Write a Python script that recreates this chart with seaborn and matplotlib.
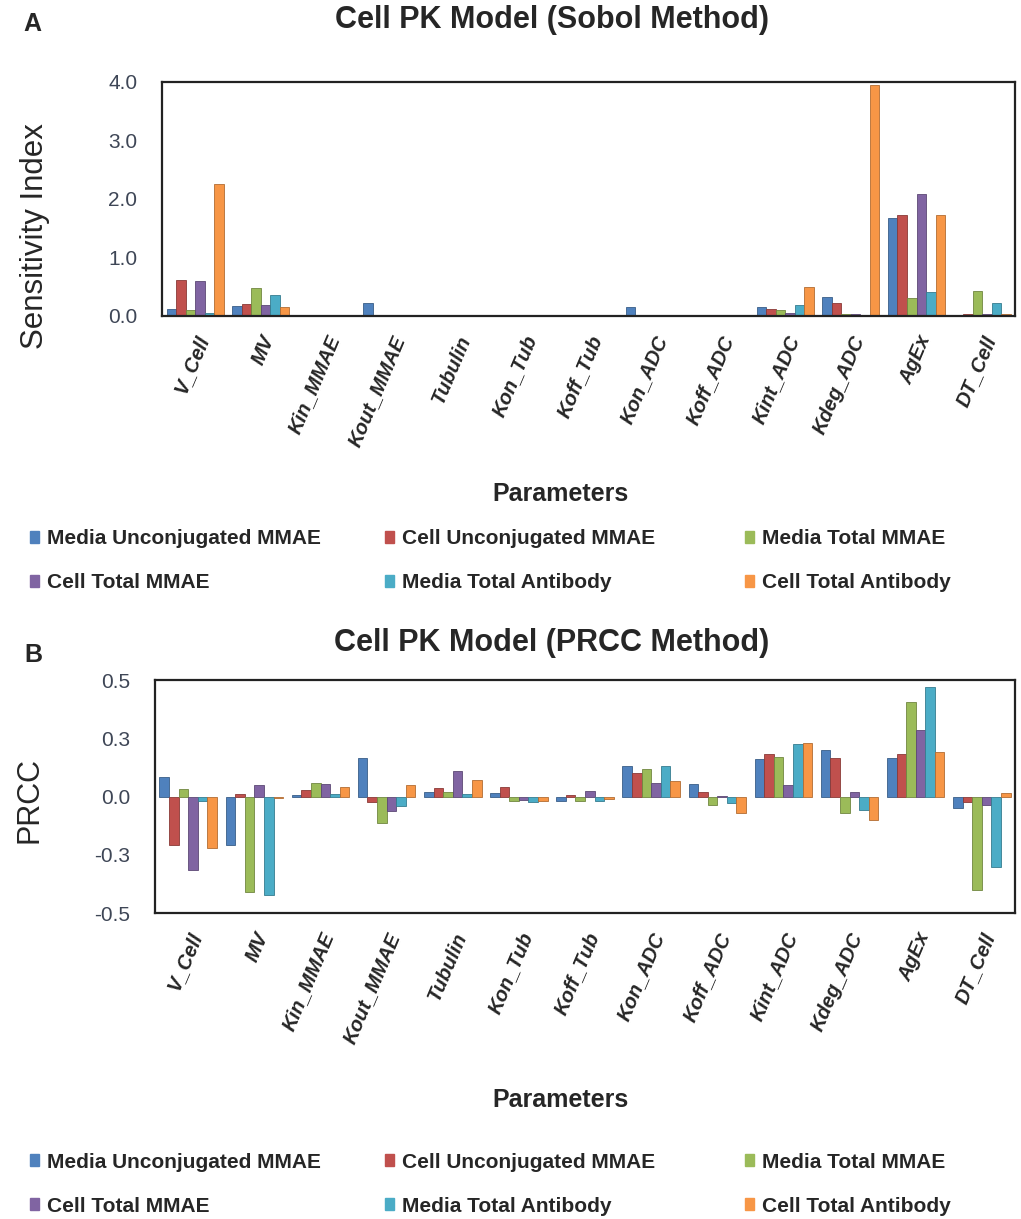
import numpy as np
import pandas as pd
import seaborn as sns
import matplotlib.pyplot as plt
from matplotlib.colors import to_rgb
from matplotlib.patches import Patch

params = ["V_Cell", "MV", "Kin_MMAE", "Kout_MMAE", "Tubulin", "Kon_Tub", "Koff_Tub",
          "Kon_ADC", "Koff_ADC", "Kint_ADC", "Kdeg_ADC", "AgEx", "DT_Cell"]
series = ["Media Unconjugated MMAE", "Cell Unconjugated MMAE", "Media Total MMAE",
          "Cell Total MMAE", "Media Total Antibody", "Cell Total Antibody"]
colors = ["#4f81bd", "#c0504d", "#9bbb59", "#8064a2", "#4bacc6", "#f79646"]

# Sobol sensitivity index, one list per series (order of params)
sobol_media_unconj = [0.12, 0.17, 0.02, 0.22, 0.01, 0.01, 0.01, 0.15, 0.01, 0.15, 0.32, 1.67, 0.02]
sobol_cell_unconj = [0.62, 0.20, 0.02, 0.02, 0.01, 0.01, 0.01, 0.02, 0.01, 0.12, 0.22, 1.72, 0.04]
sobol_media_total = [0.10, 0.48, 0.02, 0.02, 0.01, 0.01, 0.01, 0.02, 0.01, 0.10, 0.03, 0.30, 0.43]
sobol_cell_total = [0.60, 0.19, 0.02, 0.02, 0.01, 0.01, 0.01, 0.02, 0.01, 0.05, 0.03, 2.09, 0.03]
sobol_media_ab = [0.05, 0.35, 0.02, 0.02, 0.01, 0.01, 0.01, 0.02, 0.01, 0.18, 0.02, 0.41, 0.22]
sobol_cell_ab = [2.25, 0.16, 0.02, 0.02, 0.01, 0.01, 0.01, 0.02, 0.01, 0.50, 3.95, 1.72, 0.03]

# PRCC values
prcc_media_unconj = [0.084, -0.206, 0.007, 0.164, 0.02, 0.015, -0.02, 0.133, 0.055, 0.16, 0.20, 0.167, -0.05]
prcc_cell_unconj = [-0.206, 0.01, 0.03, -0.025, 0.038, 0.04, 0.007, 0.10, 0.02, 0.184, 0.165, 0.184, -0.022]
prcc_media_total = [0.033, -0.41, 0.058, -0.112, 0.02, -0.017, -0.02, 0.12, -0.036, 0.171, -0.072, 0.406, -0.40]
prcc_cell_total = [-0.315, 0.048, 0.054, -0.06, 0.11, -0.015, 0.026, 0.058, 0.004, 0.048, 0.02, 0.285, -0.036]
prcc_media_ab = [-0.017, -0.423, 0.01, -0.04, 0.01, -0.022, -0.02, 0.13, -0.026, 0.225, -0.058, 0.47, -0.304]
prcc_cell_ab = [-0.22, -0.005, 0.04, 0.05, 0.07, -0.017, -0.012, 0.065, -0.07, 0.232, -0.10, 0.19, 0.017]

sobol_ticks = [0, 1, 2, 3, 4]
sobol_ticklabels = ["0.0", "1.0", "2.0", "3.0", "4.0"]
prcc_ticks = [-0.5, -0.25, 0, 0.25, 0.5]
prcc_ticklabels = ["-0.5", "-0.3", "0.0", "0.3", "0.5"]


def long_df(cols):
    rows = []
    for s, vals in zip(series, cols):
        for p, v in zip(params, vals):
            rows.append({"Parameter": p, "Series": s, "value": v})
    return pd.DataFrame(rows)


sobol_df = long_df([sobol_media_unconj, sobol_cell_unconj, sobol_media_total,
                    sobol_cell_total, sobol_media_ab, sobol_cell_ab])
prcc_df = long_df([prcc_media_unconj, prcc_cell_unconj, prcc_media_total,
                   prcc_cell_total, prcc_media_ab, prcc_cell_ab])

sns.set_style("white")
plt.rcParams["font.family"] = ["Liberation Sans", "DejaVu Sans"]

fig = plt.figure(figsize=(10.21, 12.19), dpi=100)
axA = fig.add_axes([0.159, 0.7408, 0.835, 0.192])
axB = fig.add_axes([0.152, 0.251, 0.842, 0.191])


def draw(ax, df, ticks, ticklabels, ylim):
    sns.barplot(data=df, x="Parameter", y="value", hue="Series", order=params,
                hue_order=series, palette=colors, saturation=1, width=0.87, gap=0,
                errorbar=None, legend=False, ax=ax)
    for bar in ax.patches:
        r, g, b = to_rgb(bar.get_facecolor())
        bar.set_edgecolor((r * 0.72, g * 0.72, b * 0.72))
        bar.set_linewidth(0.6)
    ax.set_ylim(*ylim)
    ax.set_xlim(-0.5, len(params) - 0.5)
    ax.set_yticks(ticks)
    ax.set_yticklabels(ticklabels, fontsize=15, color="#3e4656")
    ax.set_xticks(range(len(params)))
    ax.set_xticklabels(params, rotation=67, ha="right", rotation_mode="anchor",
                       fontsize=14.5, fontweight="bold", fontstyle="italic")
    ax.tick_params(axis="y", length=0, pad=18)
    ax.tick_params(axis="x", length=0, pad=12)
    ax.set_xlabel("")
    ax.set_ylabel("")
    for sp in ax.spines.values():
        sp.set_visible(True)
        sp.set_color("#222222")
        sp.set_linewidth(1.6)


draw(axA, sobol_df, sobol_ticks, sobol_ticklabels, (0, 4))
draw(axB, prcc_df, prcc_ticks, prcc_ticklabels, (-0.5, 0.5))

# titles and labels
fig.text(552 / 1021, 1 - 20 / 1219, "Cell PK Model (Sobol Method)", ha="center",
         va="center", fontsize=22, fontweight="bold")
fig.text(552 / 1021, 1 - 643 / 1219, "Cell PK Model (PRCC Method)", ha="center",
         va="center", fontsize=22, fontweight="bold")
fig.text(32 / 1021, 1 - 24 / 1219, "A", ha="center", va="center", fontsize=18,
         fontweight="bold")
fig.text(33 / 1021, 1 - 655 / 1219, "B", ha="center", va="center", fontsize=18,
         fontweight="bold")
fig.text(35 / 1021, 1 - 236 / 1219, "Sensitivity Index", rotation=90, ha="center",
         va="center", fontsize=22.5)
fig.text(30 / 1021, 1 - 800 / 1219, "PRCC", rotation=90, ha="center", va="center",
         fontsize=22)
fig.text(560 / 1021, 1 - 494 / 1219, "Parameters", ha="center", va="center",
         fontsize=18, fontweight="bold")
fig.text(560 / 1021, 1 - 1100 / 1219, "Parameters", ha="center", va="center",
         fontsize=18, fontweight="bold")

# legends: three columns of two entries, placed like the reference
col_x = [30 / 1021, 385 / 1021, 745 / 1021]
for ycen in [1 - 561 / 1219, 1 - 1184 / 1219]:
    for k, x in enumerate(col_x):
        idx = [k, k + 3]
        fig.legend([Patch(facecolor=colors[i], edgecolor=colors[i]) for i in idx],
                   [series[i] for i in idx], loc="center left",
                   bbox_to_anchor=(x, ycen), frameon=False, borderpad=0,
                   borderaxespad=0, handlelength=0.45, handleheight=0.45,
                   handletextpad=0.35, labelspacing=1.2,
                   prop={"weight": "bold", "size": 15})

fig.savefig("out.png", dpi=100)
